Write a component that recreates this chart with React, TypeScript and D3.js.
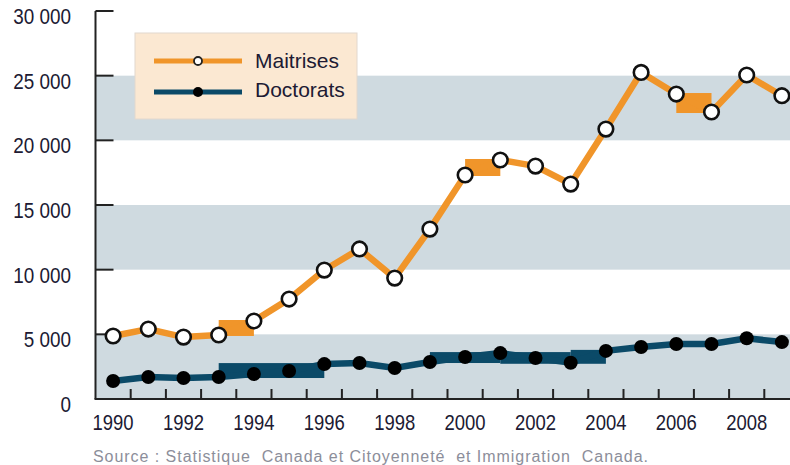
import React from "react";
import * as d3 from "d3";

const years = [1990, 1991, 1992, 1993, 1994, 1995, 1996, 1997, 1998, 1999, 2000, 2001, 2002, 2003, 2004, 2005, 2006, 2007, 2008, 2009];
const maitrises = [4870, 5410, 4790, 4950, 6030, 7730, 9970, 11600, 9350, 13140, 17320, 18480, 18010, 16620, 20870, 25250, 23580, 22190, 25050, 23450];
const doctorats = [1390, 1700, 1620, 1700, 1930, 2160, 2700, 2780, 2400, 2860, 3250, 3550, 3170, 2800, 3720, 4020, 4250, 4250, 4700, 4400];
// spans where the original rendering fills the box between points
const maitrisesSpans = [[1993, 1994], [2000, 2001], [2006, 2007]];
const doctoratsSpans = [[1993, 1996], [1999, 2001], [2001, 2003], [2003, 2004]];
const yTicks = [0, 5000, 10000, 15000, 20000, 25000, 30000];
const bandRanges = [[0, 5000], [10000, 15000], [20000, 25000]];
const xLabels = [1990, 1992, 1994, 1996, 1998, 2000, 2002, 2004, 2006, 2008];

const ORANGE = "#f0952a";
const NAVY = "#0b4a68";
const TEXT = "#201a33";
const FONT = "'Liberation Sans', Arial, sans-serif";

export default function App() {
  const width = 790;
  const height = 465;
  const left = 95.5;

  const x = d3.scaleBand<number>().domain(years).range([left, left + 20 * 35.2]);
  const cx = (yr: number) => (x(yr) as number) + x.bandwidth() / 2;
  const y = d3.scaleLinear().domain([0, 30000]).range([399, 11]);

  const line = d3
    .line<number>()
    .x((d, i) => cx(years[i]))
    .y((d) => y(d));

  const spanRects = (vals: number[], spans: number[][]) =>
    spans.map(([a, b]) => {
      const ia = years.indexOf(a);
      const ib = years.indexOf(b);
      const sub = vals.slice(ia, ib + 1);
      const top = y(d3.max(sub) as number);
      const bot = y(d3.min(sub) as number);
      return { x: cx(a), w: cx(b) - cx(a), y: top - 1, h: bot - top + 2 };
    });

  const boundaries = years.slice(1).map((yr) => x(yr) as number);

  return (
    <svg width={width} height={height} style={{ position: "fixed", left: 0, top: 0, background: "#fff" }}>
      {bandRanges.map(([a, b], i) => (
        <rect key={i} x={left} y={y(b)} width={width - left} height={y(a) - y(b)} fill="#cfdae0" />
      ))}

      {/* axes */}
      <line x1={left} x2={left} y1={y(30000)} y2={y(0)} stroke="#222" strokeWidth={2} />
      <line x1={left - 1} x2={width} y1={y(0)} y2={y(0)} stroke="#222" strokeWidth={2} />
      {yTicks.slice(1).map((t) => (
        <line key={t} x1={left} x2={left + 18} y1={y(t)} y2={y(t)} stroke="#222" strokeWidth={2} />
      ))}
      {boundaries.map((b, i) => (
        <line key={i} x1={b} x2={b} y1={y(0)} y2={y(0) - 10} stroke="#222" strokeWidth={2} />
      ))}
      {yTicks.map((t) => (
        <text
          key={t}
          transform={`translate(71,${y(t) + 13}) scale(0.9,1.06)`}
          textAnchor="end"
          fontFamily={FONT}
          fontSize={21}
          fill={TEXT}
        >
          {d3.format(",")(t).replace(/,/g, " ")}
        </text>
      ))}
      {xLabels.map((yr) => (
        <text
          key={yr}
          transform={`translate(${cx(yr)},430) scale(0.88,1.06)`}
          textAnchor="middle"
          fontFamily={FONT}
          fontSize={21}
          fill={TEXT}
        >
          {yr}
        </text>
      ))}

      {/* Doctorats */}
      {spanRects(doctorats, doctoratsSpans).map((r, i) => (
        <rect key={i} x={r.x} y={r.y} width={r.w} height={r.h} fill={NAVY} />
      ))}
      <path d={line(doctorats) as string} fill="none" stroke={NAVY} strokeWidth={6.5} />
      {doctorats.map((v, i) => (
        <circle key={i} cx={cx(years[i])} cy={y(v)} r={7} fill="#000" />
      ))}

      {/* Maitrises */}
      {spanRects(maitrises, maitrisesSpans).map((r, i) => (
        <rect key={i} x={r.x} y={r.y} width={r.w} height={r.h} fill={ORANGE} />
      ))}
      <path d={line(maitrises) as string} fill="none" stroke={ORANGE} strokeWidth={6.5} />
      {maitrises.map((v, i) => (
        <circle key={i} cx={cx(years[i])} cy={y(v)} r={7.3} fill="#fff" stroke="#111" strokeWidth={2.6} />
      ))}

      {/* legend */}
      <rect x={135} y={33} width={222} height={86} fill="#fbe8d2" stroke="#e2d8ce" strokeWidth={1} />
      <line x1={154} x2={242} y1={61} y2={61} stroke={ORANGE} strokeWidth={5} />
      <circle cx={198} cy={61} r={4} fill="#fff" stroke="#222" strokeWidth={1.8} />
      <text x={255} y={68} fontFamily={FONT} fontSize={21} fill={TEXT}>Maitrises</text>
      <line x1={154} x2={242} y1={92} y2={92} stroke={NAVY} strokeWidth={5} />
      <circle cx={198} cy={92} r={5} fill="#000" />
      <text x={255} y={97} fontFamily={FONT} fontSize={21} fill={TEXT}>Doctorats</text>

      <text
        x={93}
        y={462}
        fontFamily={FONT}
        fontSize={16}
        fill="#8c8e9a"
        textLength={555}
        lengthAdjust="spacing"
        xmlSpace="preserve"
      >
        Source : Statistique  Canada et Citoyenneté  et Immigration  Canada.
      </text>
    </svg>
  );
}
